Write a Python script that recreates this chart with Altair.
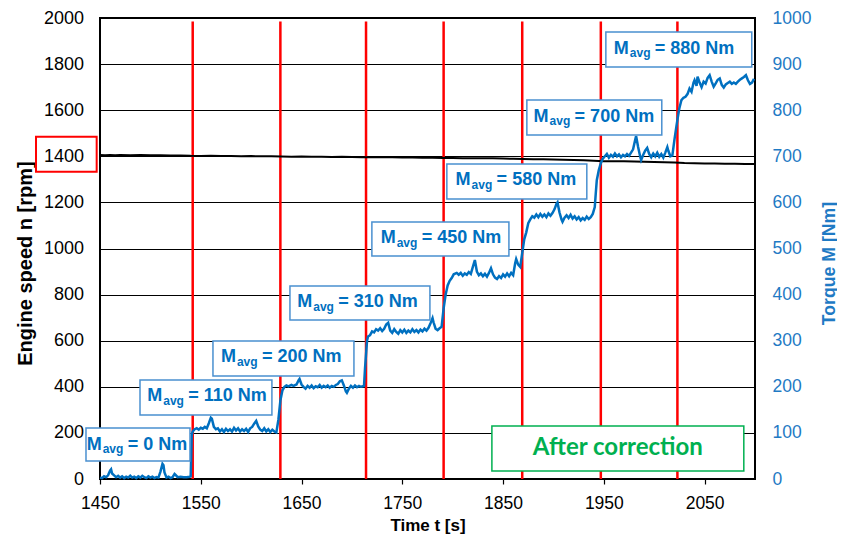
import altair as alt
import pandas as pd

# ---------------- data ----------------
# engine speed n [rpm] (black line)
speed_t = [1450, 1455, 1460, 1465, 1470, 1480, 1490, 1500, 1510, 1520, 1530, 1540, 1550, 1560, 1570,
           1580, 1590, 1600, 1610, 1620, 1630, 1640, 1650, 1660, 1670, 1680, 1690, 1700, 1710, 1720,
           1730, 1740, 1750, 1760, 1770, 1780, 1790, 1800, 1810, 1820, 1830, 1840, 1850, 1860, 1870,
           1880, 1890, 1900, 1910, 1920, 1930, 1940, 1950, 1960, 1970, 1980, 1990, 2000, 2010, 2020,
           2030, 2040, 2050, 2060, 2070, 2080, 2090, 2100]
speed_n = [1406, 1405, 1406, 1405, 1406, 1405, 1406, 1405, 1405, 1404, 1404, 1402, 1401, 1402, 1401,
           1401, 1400, 1401, 1400, 1400, 1399, 1398, 1399, 1398, 1398, 1397, 1398, 1397, 1396, 1396,
           1397, 1396, 1395, 1395, 1394, 1394, 1393, 1393, 1392, 1392, 1391, 1391, 1390, 1389, 1388,
           1387, 1387, 1386, 1385, 1384, 1383, 1381, 1379, 1378, 1378, 1377, 1376, 1375, 1374, 1373,
           1371, 1370, 1369, 1369, 1368, 1368, 1367, 1367]

# torque M [Nm] (blue line)
torque_t = [1450, 1452, 1454, 1456, 1458, 1460, 1461, 1462, 1464, 1466, 1468, 1470, 1472, 1474, 1476,
            1478, 1480, 1482, 1484, 1486, 1488, 1490, 1492, 1494, 1496, 1498, 1500, 1502, 1504, 1506,
            1508, 1510, 1512, 1513, 1514, 1516, 1518, 1520, 1522, 1524, 1525, 1527, 1530, 1533, 1536,
            1539, 1540,
            1541, 1542, 1544, 1546, 1548, 1550, 1552, 1554, 1556, 1558, 1560, 1561, 1563, 1565, 1567,
            1569, 1571, 1573, 1575, 1577, 1579, 1581, 1583, 1585, 1587, 1589, 1591, 1593, 1595, 1597,
            1599, 1601, 1603, 1605, 1607, 1609, 1611, 1613, 1615, 1617, 1619, 1621, 1623, 1625, 1627,
            1629, 1631, 1633,
            1635, 1637, 1640, 1642, 1645, 1647, 1648, 1650, 1652, 1654, 1656, 1658, 1660, 1662, 1664,
            1666, 1668, 1670, 1672, 1674, 1676, 1678, 1680, 1682, 1684, 1686, 1688, 1690, 1692, 1694,
            1695, 1697, 1699, 1701, 1703, 1705, 1707, 1709, 1711, 1712,
            1713, 1715, 1716, 1718, 1720, 1722, 1724, 1726, 1728, 1730, 1732, 1734, 1736, 1738, 1740,
            1742, 1744, 1746, 1748, 1750, 1752, 1754, 1756, 1758, 1760, 1762, 1764, 1766, 1768, 1770,
            1772, 1774, 1776, 1778, 1780, 1781, 1783, 1785, 1787, 1789,
            1791, 1793, 1795, 1797, 1799, 1801, 1804,
            1806, 1808, 1810, 1812, 1814, 1816, 1818, 1820, 1822, 1824, 1826, 1828, 1830, 1832, 1834,
            1836, 1838, 1840, 1842, 1844, 1846, 1848, 1850, 1852, 1854, 1856, 1858, 1860, 1862, 1863,
            1865, 1867, 1869, 1871, 1873, 1875, 1877, 1879, 1881,
            1883, 1885, 1887, 1889, 1891, 1893, 1895, 1897, 1899, 1901, 1903, 1904, 1906, 1908, 1909,
            1911, 1913, 1915, 1917, 1919, 1921, 1923, 1925, 1927, 1929, 1931, 1933, 1935, 1937, 1939,
            1941, 1942, 1943, 1945, 1947, 1949, 1951,
            1953, 1955, 1957, 1959, 1961, 1963, 1965, 1967, 1969, 1971, 1973, 1975, 1977, 1979, 1981,
            1982, 1984, 1986, 1987, 1989, 1991, 1993, 1995, 1997, 1999, 2001, 2003, 2005, 2007, 2009,
            2011, 2013, 2014, 2016, 2018, 2020, 2022, 2023, 2025, 2027, 2029, 2031, 2033, 2035, 2037,
            2039, 2040, 2042, 2043, 2045, 2047, 2049, 2051, 2053, 2055, 2057, 2059, 2061, 2063, 2065,
            2067, 2069, 2071, 2073, 2075, 2077, 2079, 2081, 2083, 2085, 2087, 2089, 2091, 2093, 2095,
            2097, 2099]
torque_m = [3, 2, 6, 4, 8, 18, 21, 12, 8, 4, 7, 3, 6, 2, 5,
            3, 7, 3, 5, 2, 6, 3, 7, 4, 2, 6, 3, 5, 2, 4,
            3, 16, 33, 30, 14, 3, 5, 2, 4, 11, 9, 4, 5, 4, 4,
            5, 6,
            95, 103, 108, 110, 107, 111, 109, 113, 110, 121, 133, 131, 113, 108, 110,
            103, 108, 102, 109, 104, 108, 103, 111, 105, 110, 103, 108, 104, 109, 102,
            110, 113, 120, 126, 114, 107, 104, 110, 103, 108, 102, 107, 103, 101, 128,
            170, 192, 200,
            203, 201, 204, 202, 205, 214, 217, 205, 200, 196, 202, 198, 203, 197, 201,
            199, 204, 198, 202, 199, 203, 198, 202, 200, 204, 206, 212, 214, 203, 190,
            187, 196, 202, 198, 203, 199, 202, 200, 201, 202,
            240, 300, 309, 312, 320, 318, 325, 322, 327, 321, 326, 335, 339, 322, 317,
            325, 319, 315, 323, 318, 324, 317, 322, 318, 325, 319, 323, 318, 324, 320,
            326, 322, 328, 338, 349, 340, 326, 323, 327, 330,
            370, 400, 420, 430, 436, 444, 447,
            443, 447, 441, 446, 443, 449, 445, 460, 475, 450, 442, 446, 440, 445, 439,
            447, 457, 444, 437, 434, 440, 436, 444, 439, 446, 440, 447, 442, 468, 477,
            465, 460, 490, 520, 535, 555, 563, 570, 567,
            574, 568, 575, 569, 574, 568, 576, 571, 577, 585, 597, 600, 578, 563, 558,
            567, 572, 566, 573, 565, 570, 563, 568, 561, 566, 562, 569, 564, 568, 575,
            590, 620, 648, 670, 685, 695, 700,
            705, 697, 703, 699, 706, 700, 704, 698, 703, 700, 705, 701, 708, 715, 735,
            744, 720, 700, 692, 703, 712, 718, 705, 698, 706, 700, 708, 699, 705, 697,
            708, 720, 712, 700, 702, 735, 765, 779, 805, 822, 827, 829, 835, 847, 840,
            860, 865, 853, 873, 860, 850, 862, 858, 870, 876, 862, 851, 858, 866, 869,
            855, 849, 856, 859, 862, 857, 860, 857, 862, 866, 869, 872, 876, 865, 857,
            860, 868]

# load-step markers (red vertical lines)
step_t = [1542, 1629, 1714, 1791, 1869, 1947, 2023]
step_top_rpm = 1985

# M_avg annotation boxes (box corners in time / torque units, text start)
label_values = ["0", "110", "200", "310", "450", "580", "700", "880"]
box_t1 = [1436.1, 1489.7, 1562.1, 1638.5, 1719.8, 1794.2, 1873.6, 1952.0]
box_t2 = [1539.3, 1620.6, 1702.0, 1777.4, 1855.8, 1933.1, 2007.5, 2096.8]
box_m_top = [110.6, 214.8, 299.4, 418.7, 557.5, 683.3, 822.1, 969.6]
box_m_bot = [39.0, 138.8, 223.4, 344.9, 483.7, 607.4, 746.2, 893.7]
text_t = [1436.8, 1496.9, 1570.0, 1645.7, 1728.5, 1802.9, 1880.3, 1959.9]

# "After correction" box
note_text = "After correction"
note_t = [1838.9, 2088.9]
note_m = [17.4, 115.0]

# red highlight around the 1400 rpm tick label
hl_t = [1386.5, 1446.7]
hl_rpm = [1333, 1485]

x_ticks = [1450, 1550, 1650, 1750, 1850, 1950, 2050]
rpm_ticks = list(range(0, 2001, 200))
nm_ticks = list(range(0, 1001, 100))

# ---------------- styling ----------------
FONT = "Liberation Sans"
BLUE = "#0070C0"
AXIS_BLUE = "#1F7AC4"
BOX_BLUE = "#4A90D0"
RED = "#FF0000"
GREEN = "#00B050"

x_scale = alt.Scale(domain=[1450, 2100], nice=False, zero=False)
rpm_scale = alt.Scale(domain=[0, 2000], nice=False, zero=False)
nm_scale = alt.Scale(domain=[0, 1000], nice=False, zero=False)

x_axis = alt.Axis(values=x_ticks, format="d", title="Time t [s]", grid=False, domain=False,
                  ticks=True, tickSize=5, tickColor="black", tickWidth=1.2,
                  labelFont=FONT, labelFontSize=17.5, labelColor="black",
                  labelPadding=10.5, labelFlush=False, labelOverlap=False,
                  titleFont=FONT, titleFontSize=17, titleFontWeight="bold",
                  titleColor="black", titleX=327.5, titleY=51.5,
                  titleBaseline="alphabetic", titleAlign="center")

left_axis = alt.Axis(values=rpm_ticks, format="d", orient="left", title="Engine speed n [rpm]",
                     grid=True, gridColor="black", gridWidth=1.2, domain=False,
                     ticks=False, tickSize=0, labelPadding=16.5,
                     labelFont=FONT, labelFontSize=18, labelColor="black",
                     labelOverlap=False, labelFlush=False,
                     titleFont=FONT, titleFontSize=20, titleFontWeight="bold",
                     titleColor="black", titleAngle=270, titleX=-68.5, titleY=245,
                     titleBaseline="alphabetic", titleAlign="center")

right_axis = alt.Axis(values=nm_ticks, format="d", orient="right", title="Torque M [Nm]",
                      grid=False, domain=False, ticks=False, tickSize=0,
                      labelPadding=17, labelFont=FONT, labelFontSize=17.5,
                      labelColor=AXIS_BLUE, labelOverlap=False, labelFlush=False,
                      titleFont=FONT, titleFontSize=17.7, titleFontWeight="bold",
                      titleColor=AXIS_BLUE, titleAngle=270, titleX=79, titleY=245,
                      titleBaseline="alphabetic", titleAlign="center")

# every layer shares the same x encoding definition (same scale and axis)
def X(field):
    return alt.X(field, scale=x_scale, axis=x_axis)

# ---------------- tables ----------------
speed_df = pd.DataFrame({"t": speed_t, "n": speed_n})
torque_df = pd.DataFrame({"t": torque_t, "M": torque_m})
step_df = pd.DataFrame({"t": step_t, "y0": [0] * len(step_t), "y1": [step_top_rpm] * len(step_t)})
box_df = pd.DataFrame({"t": box_t1, "t2": box_t2, "m1": box_m_bot, "m2": box_m_top,
                       "tx": text_t,
                       "main": ["M"] * len(label_values),
                       "sub": ["avg"] * len(label_values),
                       "rest": ["= " + v + " Nm" for v in label_values]})
note_df = pd.DataFrame({"t": [note_t[0]], "t2": [note_t[1]], "m1": [note_m[0]], "m2": [note_m[1]],
                        "tc": [(note_t[0] + note_t[1]) / 2], "mc": [(note_m[0] + note_m[1]) / 2],
                        "txt": [note_text]})
hl_df = pd.DataFrame({"t": [hl_t[0]], "t2": [hl_t[1]], "y1": [hl_rpm[0]], "y2": [hl_rpm[1]]})

# ---------------- rpm layers ----------------
steps = alt.Chart(step_df).mark_rule(color=RED, strokeWidth=2.5).encode(
    x=X("t:Q"),
    y=alt.Y("y0:Q", scale=rpm_scale, axis=None),
    y2="y1:Q",
)
speed = alt.Chart(speed_df).mark_line(color="black", strokeWidth=2).encode(
    x=X("t:Q"),
    y=alt.Y("n:Q", scale=rpm_scale, axis=left_axis),
)
highlight = alt.Chart(hl_df).mark_rect(fillOpacity=0, stroke=RED, strokeWidth=2).encode(
    x=X("t:Q"),
    x2="t2:Q",
    y=alt.Y("y1:Q", scale=rpm_scale, axis=None),
    y2="y2:Q",
)

# ---------------- torque layers ----------------
torque = alt.Chart(torque_df).mark_line(color=BLUE, strokeWidth=2.5).encode(
    x=X("t:Q"),
    y=alt.Y("M:Q", scale=nm_scale, axis=right_axis),
)
boxes = alt.Chart(box_df).mark_rect(fill="white", stroke=BOX_BLUE, strokeWidth=1.5).encode(
    x=X("t:Q"),
    x2="t2:Q",
    y=alt.Y("m1:Q", scale=nm_scale, axis=None),
    y2="m2:Q",
)
t_main = alt.Chart(box_df).mark_text(align="left", baseline="alphabetic", dy=21.5,
                                     font=FONT, fontSize=18, fontWeight="bold",
                                     color=BLUE).encode(
    x=X("tx:Q"), y=alt.Y("m2:Q", scale=nm_scale, axis=None), text="main:N")
t_sub = alt.Chart(box_df).mark_text(align="left", baseline="alphabetic", dx=16, dy=25,
                                    font=FONT, fontSize=12, fontWeight="bold",
                                    color=BLUE).encode(
    x=X("tx:Q"), y=alt.Y("m2:Q", scale=nm_scale, axis=None), text="sub:N")
t_rest = alt.Chart(box_df).mark_text(align="left", baseline="alphabetic", dx=41, dy=21.5,
                                     font=FONT, fontSize=18, fontWeight="bold",
                                     color=BLUE).encode(
    x=X("tx:Q"), y=alt.Y("m2:Q", scale=nm_scale, axis=None), text="rest:N")
note_box = alt.Chart(note_df).mark_rect(fill="white", stroke=GREEN, strokeWidth=1.5).encode(
    x=X("t:Q"),
    x2="t2:Q",
    y=alt.Y("m1:Q", scale=nm_scale, axis=None),
    y2="m2:Q",
)
note_txt = alt.Chart(note_df).mark_text(align="center", baseline="middle", font="Lato",
                                        fontSize=24, fontWeight="bold", color=GREEN).encode(
    x=X("tc:Q"),
    y=alt.Y("mc:Q", scale=nm_scale, axis=None),
    text="txt:N",
)

chart = alt.layer(
    steps, speed, highlight, torque, boxes, t_main, t_sub, t_rest, note_box, note_txt
).resolve_scale(y="independent").properties(
    width=655,
    height=461,
    autosize=alt.AutoSizeParams(type="none"),
    padding={"left": 92, "top": 10, "right": 82, "bottom": 56},
    background="white",
).configure_view(stroke="black", strokeWidth=2)

chart.save("out.html", embed_options={"renderer": "svg", "actions": False})
